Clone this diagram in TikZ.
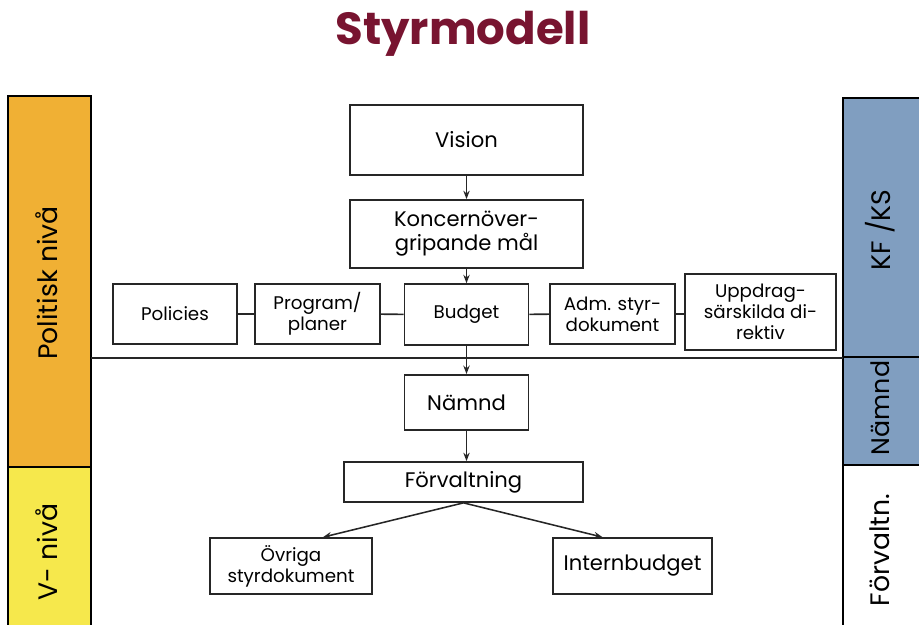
\documentclass[tikz,border=0pt]{standalone}
\usepackage{fontspec}
\setmainfont{Poppins}
\usetikzlibrary{arrows.meta}

\definecolor{titelrod}{RGB}{120,20,48}
\definecolor{politisk}{RGB}{240,176,52}
\definecolor{vniva}{RGB}{246,232,76}
\definecolor{kfks}{RGB}{128,158,192}

\tikzset{
  ruta/.style={draw=black!85, line width=1.2pt, fill=white, align=center,
    inner sep=0pt, font=\fontsize{15}{17}\selectfont},
  liten/.style={font=\fontsize{13}{15}\selectfont},
  pil/.style={draw=black!85, line width=1.1pt, -{Stealth[length=6pt,width=4.5pt]}},
  linje/.style={draw=black!85, line width=1.1pt},
  sidtext/.style={rotate=90, font=\fontsize{19}{21}\selectfont}
}

\begin{document}
\begin{tikzpicture}[x=0.025cm, y=-0.025cm]

\clip (0,0) rectangle (919,624);

\node[font=\fontsize{32}{38}\bfseries, text=titelrod] (titel) at (463,34) {Styrmodell};

% vänster stapel
\draw[line width=1.2pt, fill=politisk] (8,96) rectangle (91,467);
\draw[line width=1.2pt, fill=vniva] (8,467) rectangle (91,640);
\node[sidtext] (politisk) at (47,283) {Politisk nivå};
\node[sidtext] (vniva) at (47,552) {V- nivå};

% höger stapel
\draw[line width=1.2pt, fill=kfks] (843,98) rectangle (930,357);
\draw[line width=1.2pt, fill=kfks] (843,357) rectangle (930,465);
\draw[line width=1.2pt] (843,465) -- (843,640);
\node[sidtext] (kfks) at (880,230) {KF /KS};
\node[sidtext, font=\fontsize{18}{20}\selectfont] (namndniva) at (880,408) {Nämnd};
\node[sidtext] (forvniva) at (880,550) {Förvaltn.};

% gränslinje
\draw[line width=1.8pt, black!85] (91,358) -- (843,358);

\node[ruta, minimum width=5.83cm, minimum height=1.75cm] (vision) at (466.5,140) {Vision};
\node[ruta, minimum width=5.83cm, minimum height=1.7cm] (koncern) at (466.5,234) {Koncernöver-\\gripande mål};

\node[ruta, liten, minimum width=3.1cm, minimum height=1.5cm] (policies) at (175,314) {Policies};
\node[ruta, liten, minimum width=3.12cm, minimum height=1.5cm] (program) at (317.5,314) {Program/\\planer};
\node[ruta, liten, minimum width=3.1cm, minimum height=1.52cm] (budget) at (466.5,314.5) {Budget};
\node[ruta, liten, minimum width=3.12cm, minimum height=1.5cm] (adm) at (612.5,314) {Adm. styr-\\dokument};
\node[ruta, liten, minimum width=3.78cm, minimum height=1.9cm] (uppdrag) at (760.5,312) {Uppdrag-\\särskilda di-\\rektiv};

\node[ruta, minimum width=3.1cm, minimum height=1.38cm] (namnd) at (466.5,402.5) {Nämnd};
\node[ruta, minimum width=5.98cm, minimum height=1cm] (forvaltning) at (463.5,482) {Förvaltning};

\node[ruta, liten, minimum width=4.05cm, minimum height=1.4cm] (ovriga) at (291,566) {Övriga\\styrdokument};
\node[ruta, minimum width=3.98cm, minimum height=1.4cm] (intern) at (632.5,566) {Internbudget};

% pilar
\draw[pil] (vision) -- (koncern);
\draw[pil] (koncern) -- (budget);
\draw[pil] (budget) -- (namnd);
\draw[pil] (namnd.south) -- (namnd.south |- forvaltning.north);
\draw[pil] (forvaltning.south) -- ([xshift=0.8cm]ovriga.north);
\draw[pil] (forvaltning.south) -- ([xshift=-0.75cm]intern.north);

% linjer i raden
\draw[linje] (policies) -- (program);
\draw[linje] (program) -- (budget);
\draw[linje] (budget) -- (adm);
\draw[linje] (adm.east) -- (adm.east -| uppdrag.west);

\end{tikzpicture}
\end{document}
